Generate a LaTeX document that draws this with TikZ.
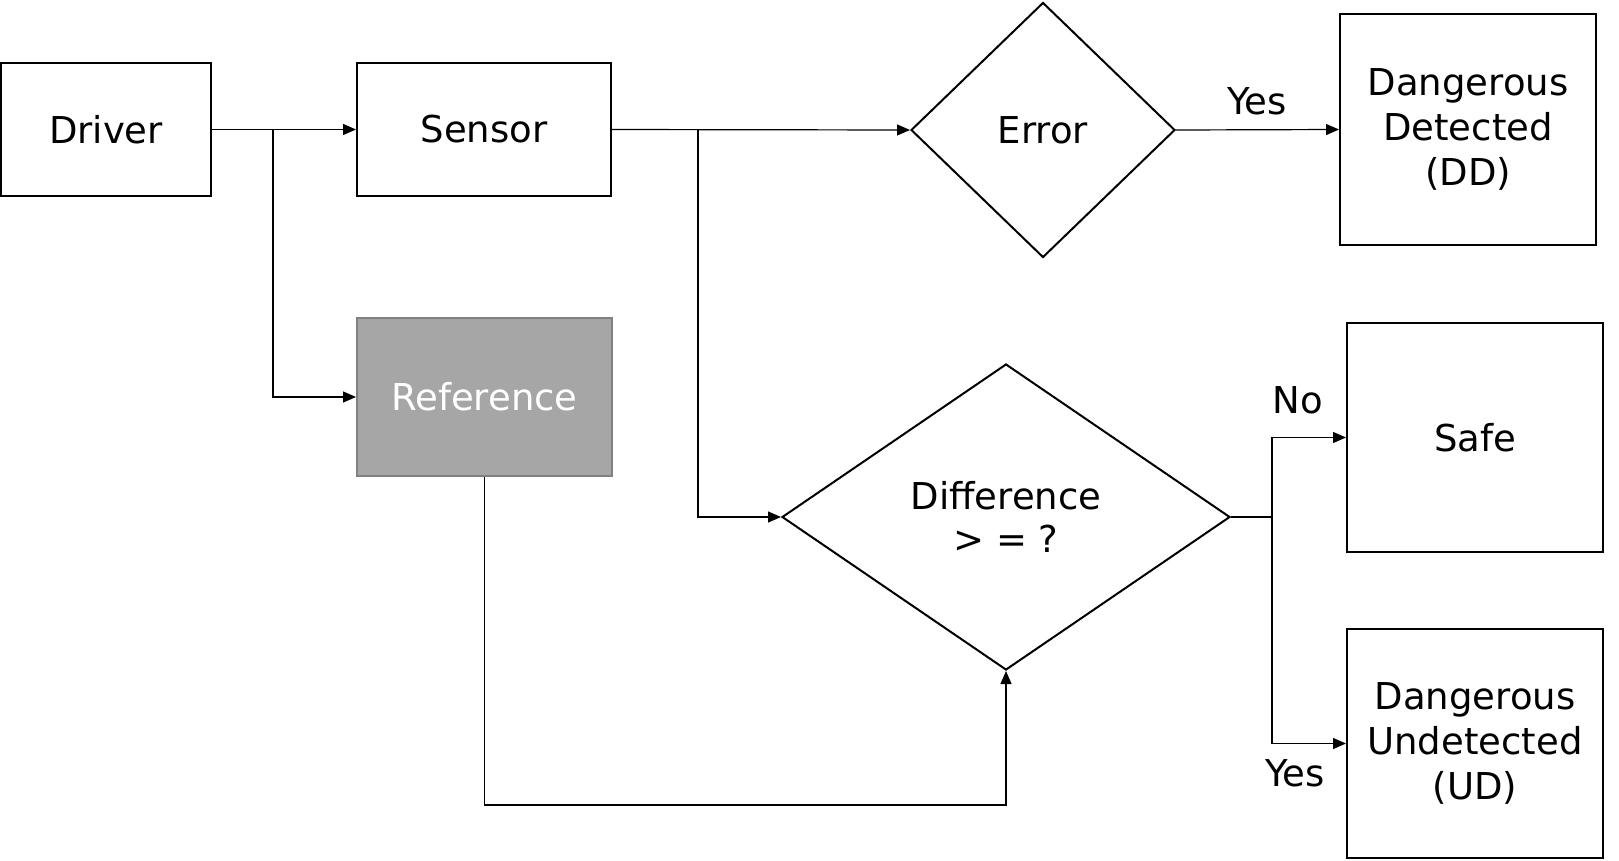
\documentclass[tikz,border=0pt]{standalone}
\usepackage{fontspec}
\setmainfont{DejaVu Sans}
\usetikzlibrary{shapes.geometric,arrows.meta}
\definecolor{refill}{RGB}{166,166,166}
\definecolor{refline}{RGB}{128,128,128}
\tikzset{
  txt/.style={font=\fontsize{37}{45}\selectfont},
  box/.style={draw,rectangle,line width=2pt,inner sep=0pt,align=center,txt},
  decide/.style={draw,diamond,line width=2pt,inner sep=0pt,align=center,txt},
  conn/.style={line width=1.2pt},
  arr/.style={conn,-{Triangle[length=13pt,width=11pt]}},
  lab/.style={txt,inner sep=0pt},
}

\begin{document}
\begin{tikzpicture}[x=1pt,y=-1pt]
  \useasboundingbox (0,0) rectangle (1619,860);
  % blocks
  \node[box,minimum width=210pt,minimum height=133pt] (driver) at (106,129.5) {Driver};
  \node[box,minimum width=254pt,minimum height=133pt] (sensor) at (484,129.5) {Sensor};
  \node[box,fill=refill,draw=refline,text=white,minimum width=255pt,minimum height=158pt] (reference) at (484.5,397) {Reference};
  \node[decide,minimum width=264pt,minimum height=255pt] (error) at (1043,130) {Error};
  \node[decide,minimum width=448pt,minimum height=306pt] (diff) at (1006,517) {Difference\\[-2pt]> = ?};
  \node[box,minimum width=256pt,minimum height=231pt] (dd) at (1468,129.5) {Dangerous\\Detected\\(DD)};
  \node[box,minimum width=256pt,minimum height=229pt] (safe) at (1475,437.5) {Safe};
  \node[box,minimum width=256pt,minimum height=229pt] (ud) at (1475,743.5) {Dangerous\\Undetected\\(UD)};
  % branch points
  \coordinate (split1) at (273,130);
  \coordinate (split2) at (698,130);
  \coordinate (split3) at (1272,517);
  % connectors
  \draw[arr] (driver.east) -- (sensor.west);
  \draw[arr] (split1) |- (reference.west);
  \draw[arr] (sensor.east) -- (error.west);
  \draw[arr] (split2) |- (diff.west);
  \draw[arr] (error.east) -- (dd.west);
  \draw[arr] (reference.south) -- ++(0,328) -| (diff.south);
  \draw[conn] (diff.east) -- (split3);
  \draw[arr] (split3) |- (safe.west);
  \draw[arr] (split3) |- (ud.west);
  % labels
  \node[lab] (yes1) at (1257,101) {Yes};
  \node[lab] (no) at (1298,400) {No};
  \node[lab] (yes2) at (1295,773) {Yes};
\end{tikzpicture}
\end{document}
